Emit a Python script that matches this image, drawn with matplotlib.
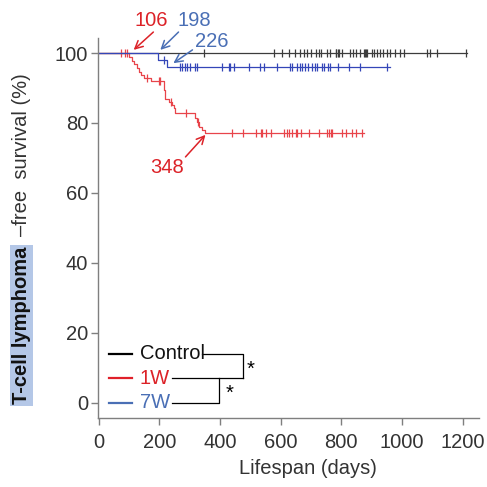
""" Kaplan-Meier style plot of T-cell lymphoma-free survival """

import numpy as np
import matplotlib
matplotlib.use('Agg')
import matplotlib.pyplot as plt

plt.rcParams['font.family'] = ['Liberation Sans', 'DejaVu Sans']

# Group names and colours
groups = ['Control', '1W', '7W']
curve_colors = ['#3c3c3c', '#e8444a', '#3446b8']
text_colors = ['#111111', '#dc2228', '#4a6fb5']

# Event times (days) and survival (%) after each event
t_ctrl = []
s_ctrl = []
t_1w = [101, 110, 116, 126, 132, 138, 149, 171, 216, 220, 231, 242, 247, 253, 319, 324, 330, 341, 350]
s_1w = [98.9, 97.8, 97.0, 95.7, 94.6, 93.8, 92.9, 91.9, 89.3, 86.8, 86.1, 85.1, 84.2, 82.8, 81.3, 80.4,
        78.9, 78.0, 77.0]
t_7w = [196, 226]
s_7w = [98.0, 96.0]

# Last follow-up day of each curve
end_days = [1215, 875, 962]

# Censored observations (days)
c_ctrl = [346, 577, 605, 627, 647, 665, 676, 687, 700, 717, 725, 733, 753, 764, 781, 784, 788, 791, 802,
          830, 838, 850, 863, 874, 877, 882, 885, 901, 907, 918, 929, 936, 950, 961, 978, 995, 1006,
          1084, 1092, 1117, 1210]
c_1w = [72, 86, 94, 159, 198, 203, 238, 288, 326, 440, 476, 517, 534, 539, 553, 567, 611, 622, 629, 638,
        649, 655, 666, 693, 726, 754, 759, 765, 770, 803, 814, 836, 847, 869]
c_7w = [215, 267, 275, 283, 291, 300, 318, 324, 407, 429, 434, 445, 494, 533, 546, 588, 632, 637, 654,
        663, 670, 681, 689, 703, 714, 720, 736, 744, 755, 764, 788, 824, 862, 952]

# Event annotations: label, arrow tip (day, %), arrow tail, text position
ann_labels = ['106', '198', '226', '348']
ann_tips = [(115, 100.9), (203, 100.9), (246, 97.1), (352, 76.6)]
ann_tails = [(180, 106.0), (263, 106.0), (309, 100.9), (286, 70.3)]
ann_text = [(174, 109.4), (314, 109.4), (373, 103.4), (225, 67.4)]
ann_colors = [text_colors[1], text_colors[2], text_colors[2], text_colors[1]]

FS = 14.5


def km_curve(times, levels, end):
    x = np.array([0] + list(times) + [end], dtype=float)
    y = np.array([100] + list(levels) + [levels[-1] if levels else 100], dtype=float)
    return x, y


def level_at(times, levels, t):
    lvl = 100.0
    for ti, si in zip(times, levels):
        if ti <= t:
            lvl = si
    return lvl


fig = plt.figure(figsize=(4.87, 4.87), dpi=100)
ax = fig.add_axes([0.201, 0.142, 0.783, 0.780])

all_t = [t_ctrl, t_1w, t_7w]
all_s = [s_ctrl, s_1w, s_7w]
all_c = [c_ctrl, c_1w, c_7w]
for times, levels, cens, end, col in zip(all_t, all_s, all_c, end_days, curve_colors):
    x, y = km_curve(times, levels, end)
    ax.step(x, y, where='post', color=col, lw=0.9)
    cy = [level_at(times, levels, c) for c in cens]
    ax.plot(cens, cy, ls='none', marker='|', ms=6, mew=0.9, color=col)

# arrows and labels for event days
for lab, tip, tail, pos, col in zip(ann_labels, ann_tips, ann_tails, ann_text, ann_colors):
    ax.annotate('', xy=tip, xytext=tail,
                arrowprops=dict(arrowstyle='->', color=col, lw=1.1, mutation_scale=14,
                                shrinkA=0, shrinkB=0))
    ax.text(pos[0], pos[1], lab, color=col, fontsize=FS, ha='center', va='center', clip_on=False)

# legend drawn by hand with significance brackets
leg_y = [14, 7, 0]
for gname, yy, lc, tc in zip(groups, leg_y, ['black', '#e0202a', '#4a6fb5'], text_colors):
    ax.plot([33, 110], [yy, yy], color=lc, lw=1.6)
    ax.text(135, yy, gname, color=tc, fontsize=FS, ha='left', va='center')

ax.plot([341, 476, 476], [leg_y[0], leg_y[0], leg_y[1]], color='black', lw=0.9)
ax.plot([242, 476], [leg_y[1], leg_y[1]], color='black', lw=0.9)
ax.plot([242, 396, 396], [leg_y[2], leg_y[2], leg_y[1]], color='black', lw=0.9)
ax.text(500, 9.6, '*', fontsize=FS, ha='center', va='center')
ax.text(430, 2.6, '*', fontsize=FS, ha='center', va='center')

ax.set_xlim(-3, 1255)
ax.set_ylim(-4.3, 104.3)
ax.set_xticks(np.arange(0, 1201, 200))
ax.set_yticks(np.arange(0, 101, 20))

for side in ['top', 'right']:
    ax.spines[side].set_visible(False)
for side in ['left', 'bottom']:
    ax.spines[side].set_color('#7f7f7f')
    ax.spines[side].set_linewidth(1.0)
ax.tick_params(axis='both', colors='#7f7f7f', labelcolor='#333333', labelsize=FS, length=5, width=1.0)
ax.tick_params(axis='y', pad=2)
ax.tick_params(axis='x', pad=6)

fig.text(0.632, 0.039, 'Lifespan (days)', fontsize=FS, color='#333333', ha='center', va='center')

# y label: highlighted bold part plus normal part
fig.text(21.5 / 487, (487 - 404) / 487, 'T-cell lymphoma', fontsize=FS, fontweight='bold', color='#111111',
         rotation=90, rotation_mode='anchor', ha='left', va='center',
         bbox=dict(boxstyle='square,pad=0.1', facecolor='#b4c7e7', edgecolor='none'))
fig.text(21.5 / 487, (487 - 236) / 487, '\u2013free  survival (%)', fontsize=FS, color='#333333',
         rotation=90, rotation_mode='anchor', ha='left', va='center')

fig.savefig('out.png', dpi=100)
